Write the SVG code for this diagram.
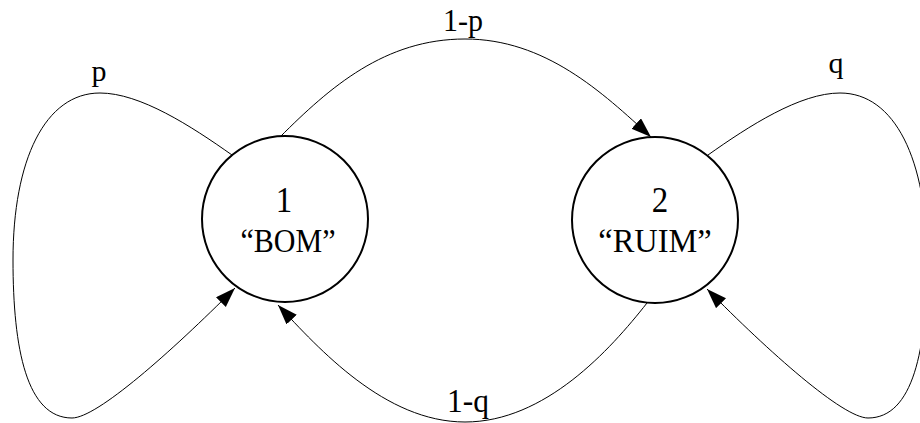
<svg xmlns="http://www.w3.org/2000/svg" width="920" height="423" viewBox="0 0 920 423">
<style>
.bg{fill:#ffffff}
.node{fill:#ffffff;stroke:#000000;stroke-width:2}
.edge{fill:none;stroke:#000000;stroke-width:1}
text{font-family:"Liberation Serif","Times New Roman",serif;fill:#000000;text-anchor:middle}
.nt{font-size:30px}
.lbl{font-size:30px}
</style>
<defs>
<marker id="arrow" markerUnits="userSpaceOnUse" markerWidth="22" markerHeight="16" refX="20" refY="7" orient="auto">
<path d="M0,0 L20,7 L0,14 z" fill="#000000"/>
</marker>
</defs>
<rect class="bg" x="0" y="0" width="920" height="423"/>
<g id="connectors">
<path id="e-1-1" class="edge" marker-end="url(#arrow)" d="M232,155 C191,126 140,93 100,93 C45,93 13,160 13,260 C13,350 27,418 72,418 C97,418 171,352 235,288"/>
<path id="e-1-2" class="edge" marker-end="url(#arrow)" d="M280,137 C330,87 385,39 465,39 C545,39 602,92 651,137"/>
<path id="e-2-1" class="edge" marker-end="url(#arrow)" d="M647,303 C610,350 545,422 465,422 C385,422 319,349 278,305"/>
<path id="e-2-2" class="edge" marker-end="url(#arrow)" d="M708,155 C749,126 800,93 840,93 C895,93 927,160 927,260 C927,350 913,418 868,418 C843,418 769,352 707,289"/>
<text class="lbl" x="99" y="81">p</text>
<text class="lbl" transform="translate(463,31) scale(1,1.08)">1-p</text>
<text class="lbl" transform="translate(468,412) scale(1.05,1.1)">1-q</text>
<text class="lbl" x="836" y="73">q</text>
</g>
<g id="node1">
<circle class="node" cx="285" cy="219" r="83"/>
<text class="nt" transform="translate(284,212) scale(1.1,1.18)">1</text>
<text class="nt" transform="translate(288,252) scale(1,1.13)">“BOM”</text>
</g>
<g id="node2">
<circle class="node" cx="655" cy="220" r="83"/>
<text class="nt" transform="translate(660,212) scale(1.1,1.18)">2</text>
<text class="nt" transform="translate(655,252) scale(1.08,1.13)">“RUIM”</text>
</g>
</svg>
